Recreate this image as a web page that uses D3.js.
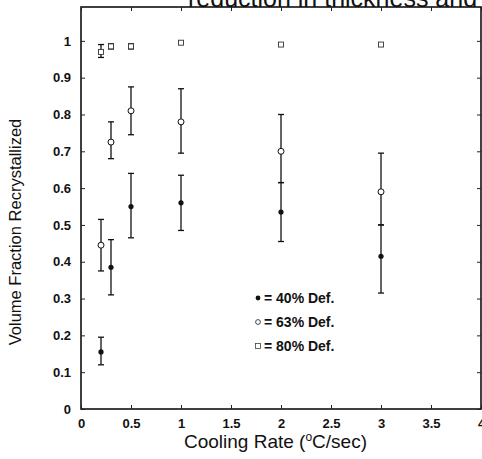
<!DOCTYPE html>
<html>
<head>
<meta charset="utf-8">
<script src="https://cdn.jsdelivr.net/npm/d3@7"></script>
<style>
  body { margin: 0; background: #fff; }
  text { font-family: "Liberation Sans", Arial, sans-serif; fill: #111; }
</style>
</head>
<body>
<div id="chart"></div>
<script>
// values
var rates = [0.2, 0.3, 0.5, 1, 2, 3];

var def40 = [0.155, 0.385, 0.55, 0.56, 0.535, 0.415];
var def40Lo = [0.12, 0.31, 0.465, 0.485, 0.455, 0.315];
var def40Hi = [0.195, 0.46, 0.64, 0.635, 0.615, 0.50];

var def63 = [0.445, 0.725, 0.81, 0.78, 0.70, 0.59];
var def63Lo = [0.375, 0.68, 0.745, 0.695, 0.615, 0.50];
var def63Hi = [0.515, 0.78, 0.875, 0.87, 0.80, 0.695];

var def80 = [0.97, 0.985, 0.985, 0.995, 0.99, 0.99];
var def80Lo = [0.955, 0.978, 0.978, 0.995, 0.99, 0.99];
var def80Hi = [0.99, 0.992, 0.992, 0.995, 0.99, 0.99];

var xTicks = [0, 0.5, 1, 1.5, 2, 2.5, 3, 3.5, 4];
var yTicks = [0, 0.1, 0.2, 0.3, 0.4, 0.5, 0.6, 0.7, 0.8, 0.9, 1];
var legendLabels = ["40% Def.", "63% Def.", "80% Def."];

var W = 482, H = 459;
var margin = {top: 7, right: 1, bottom: 50, left: 81};
var width = W - margin.left - margin.right;
var height = H - margin.top - margin.bottom;

var svg = d3.select("#chart")
    .append("svg")
    .attr("width", W)
    .attr("height", H);

// title fragment cut off at the top of the scan
svg.append("text")
    .attr("x", 188)
    .attr("y", 7)
    .style("font-size", "25px")
    .text("reduction in thickness and");

var g = svg.append("g")
    .attr("transform", "translate(" + margin.left + "," + margin.top + ")");

var x = d3.scaleLinear().domain([0, 4]).range([0, width]);
var y = d3.scaleLinear().domain([0, 1.092]).range([height, 0]);

// frame with inward ticks
g.append("rect")
    .attr("width", width)
    .attr("height", height)
    .attr("fill", "none")
    .attr("stroke", "#111")
    .attr("stroke-width", 1.6);

g.append("g")
    .attr("transform", "translate(0," + height + ")")
    .call(d3.axisBottom(x).tickValues(xTicks).tickSize(-4).tickPadding(10)
        .tickFormat(function (d) { return d; }))
    .call(function (a) { a.select(".domain").remove(); })
    .selectAll("text")
    .style("font-size", "13px")
    .style("font-weight", "bold");

g.append("g")
    .call(d3.axisTop(x).tickValues(xTicks).tickSize(-4).tickFormat(""))
    .call(function (a) { a.select(".domain").remove(); });

g.append("g")
    .call(d3.axisLeft(y).tickValues(yTicks).tickSize(-4).tickPadding(10)
        .tickFormat(function (d) { return d; }))
    .call(function (a) { a.select(".domain").remove(); })
    .selectAll("text")
    .style("font-size", "13px")
    .style("font-weight", "bold");

g.append("g")
    .attr("transform", "translate(" + width + ",0)")
    .call(d3.axisRight(y).tickValues(yTicks).tickSize(-4).tickFormat(""))
    .call(function (a) { a.select(".domain").remove(); });

g.selectAll(".tick line").attr("stroke", "#222");

// axis titles
var xt = svg.append("text")
    .attr("x", 367)
    .attr("y", 448)
    .attr("text-anchor", "end")
    .style("font-size", "19px");
xt.append("tspan").text("Cooling Rate (");
xt.append("tspan").attr("dy", -7).style("font-size", "12px").text("o");
xt.append("tspan").attr("dy", 7).text("C/sec)");

svg.append("text")
    .attr("transform", "translate(21,232) rotate(-90)")
    .attr("text-anchor", "middle")
    .style("font-size", "16.5px")
    .text("Volume Fraction Recrystallized");

// error bars
function errorBars(lo, hi) {
    var data = rates.map(function (r, i) { return {x: r, lo: lo[i], hi: hi[i]}; })
        .filter(function (d) { return d.hi - d.lo > 0.001; });
    var eb = g.append("g").selectAll("g").data(data).enter().append("g")
        .attr("stroke", "#111").attr("stroke-width", 1.3);
    eb.append("line")
        .attr("x1", function (d) { return x(d.x); })
        .attr("x2", function (d) { return x(d.x); })
        .attr("y1", function (d) { return y(d.lo); })
        .attr("y2", function (d) { return y(d.hi); });
    eb.append("line")
        .attr("x1", function (d) { return x(d.x) - 3; })
        .attr("x2", function (d) { return x(d.x) + 3; })
        .attr("y1", function (d) { return y(d.lo); })
        .attr("y2", function (d) { return y(d.lo); });
    eb.append("line")
        .attr("x1", function (d) { return x(d.x) - 3; })
        .attr("x2", function (d) { return x(d.x) + 3; })
        .attr("y1", function (d) { return y(d.hi); })
        .attr("y2", function (d) { return y(d.hi); });
}
errorBars(def40Lo, def40Hi);
errorBars(def63Lo, def63Hi);
errorBars(def80Lo, def80Hi);

// markers
g.append("g").selectAll("circle").data(def40).enter().append("circle")
    .attr("cx", function (d, i) { return x(rates[i]); })
    .attr("cy", function (d) { return y(d); })
    .attr("r", 2.6)
    .attr("fill", "#111");

g.append("g").selectAll("circle").data(def63).enter().append("circle")
    .attr("cx", function (d, i) { return x(rates[i]); })
    .attr("cy", function (d) { return y(d); })
    .attr("r", 3)
    .attr("fill", "#fff")
    .attr("stroke", "#111")
    .attr("stroke-width", 1);

g.append("g").selectAll("rect").data(def80).enter().append("rect")
    .attr("x", function (d, i) { return x(rates[i]) - 2.5; })
    .attr("y", function (d) { return y(d) - 2.5; })
    .attr("width", 5)
    .attr("height", 5)
    .attr("fill", "#fff")
    .attr("stroke", "#333")
    .attr("stroke-width", 0.9);

// legend
var legY = [303, 327, 351];
var leg = svg.append("g");
leg.append("circle").attr("cx", 258).attr("cy", legY[0] - 5).attr("r", 2.4).attr("fill", "#111");
leg.append("circle").attr("cx", 258).attr("cy", legY[1] - 5).attr("r", 2.4)
    .attr("fill", "#fff").attr("stroke", "#333").attr("stroke-width", 0.9);
leg.append("rect").attr("x", 255.5).attr("y", legY[2] - 7.5).attr("width", 5).attr("height", 5)
    .attr("fill", "#fff").attr("stroke", "#444").attr("stroke-width", 0.8);
leg.selectAll("text").data(legendLabels).enter().append("text")
    .attr("x", 264)
    .attr("y", function (d, i) { return legY[i]; })
    .style("font-size", "14px")
    .style("font-weight", "bold")
    .text(function (d) { return "= " + d; });
</script>
</body>
</html>
